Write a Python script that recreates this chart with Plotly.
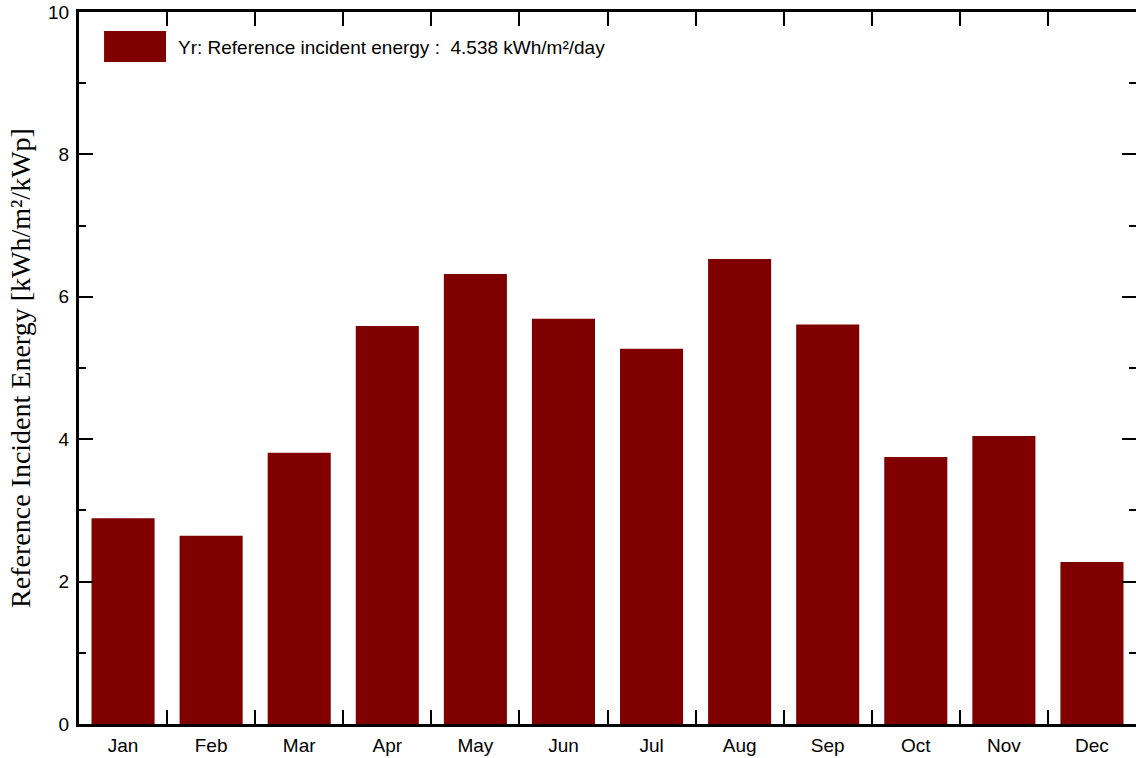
import plotly.graph_objects as go

months = ["Jan", "Feb", "Mar", "Apr", "May", "Jun", "Jul", "Aug", "Sep", "Oct", "Nov", "Dec"]
ref_incident_energy = [2.89, 2.645, 3.81, 5.59, 6.32, 5.69, 5.27, 6.53, 5.61, 3.75, 4.045, 2.275]
legend_label = "Yr: Reference incident energy :  4.538 kWh/m²/day"
y_title = "Reference Incident Energy [kWh/m²/kWp]"

bar_color = "#800000"
sans = "Liberation Sans, Arial, sans-serif"
serif = "Liberation Serif, Times New Roman, serif"

fig = go.Figure()
fig.add_trace(go.Bar(
    x=months, y=ref_incident_energy,
    marker=dict(color=bar_color, line=dict(width=0)),
    showlegend=False, name=legend_label,
))
# invisible helper trace to drive the right-hand tick axis
fig.add_trace(go.Scatter(
    x=months, y=ref_incident_energy, yaxis="y2", mode="lines",
    line=dict(width=0), opacity=0, showlegend=False, hoverinfo="skip",
))

fig.update_layout(
    width=1136, height=758,
    margin=dict(l=79, r=0, t=12, b=34),
    paper_bgcolor="white", plot_bgcolor="white",
    bargap=0.284,
    font=dict(family=sans, size=19, color="black"),
    xaxis=dict(
        type="category", automargin=False,
        range=[-0.5, len(months) - 0.5],
        tickson="boundaries",
        ticks="inside", ticklen=14, tickwidth=1.5, tickcolor="black",
        showline=True, linewidth=3, linecolor="black",
        mirror="ticks",
        showgrid=False, zeroline=False,
        ticklabelstandoff=2,
        tickfont=dict(family=sans, size=19, color="black"),
    ),
    yaxis=dict(
        range=[0, 10], dtick=2, tick0=0, automargin=False,
        ticks="inside", ticklen=14, tickwidth=1.5, tickcolor="black",
        minor=dict(ticks="inside", ticklen=7, dtick=1, tickwidth=1.5, tickcolor="black", showgrid=False),
        showline=True, linewidth=3, linecolor="black",
        showgrid=False, zeroline=False,
        ticklabelstandoff=3,
        tickfont=dict(family=sans, size=19, color="black"),
        title=dict(text=y_title, font=dict(family=serif, size=28, color="black"), standoff=10),
    ),
    yaxis2=dict(
        overlaying="y", side="right", range=[0, 10], dtick=2, tick0=0, automargin=False,
        ticks="inside", ticklen=14, tickwidth=1.5, tickcolor="black",
        minor=dict(ticks="inside", ticklen=7, dtick=1, tickwidth=1.5, tickcolor="black", showgrid=False),
        showline=False, showgrid=False, zeroline=False, showticklabels=False,
    ),
)

# legend swatch and label
fig.add_shape(type="rect", xref="paper", yref="paper",
              x0=0.0237, x1=0.0823, y0=0.9298, y1=0.9733,
              fillcolor=bar_color, line=dict(width=0))
fig.add_annotation(text=legend_label, xref="paper", yref="paper",
                   x=0.0918, y=0.9508, xanchor="left", yanchor="middle",
                   showarrow=False, font=dict(family=sans, size=19, color="black"))

fig.write_html("out.html", config={"displayModeBar": False},
               post_script="document.body.style.margin='0';document.body.style.overflow='hidden';")
